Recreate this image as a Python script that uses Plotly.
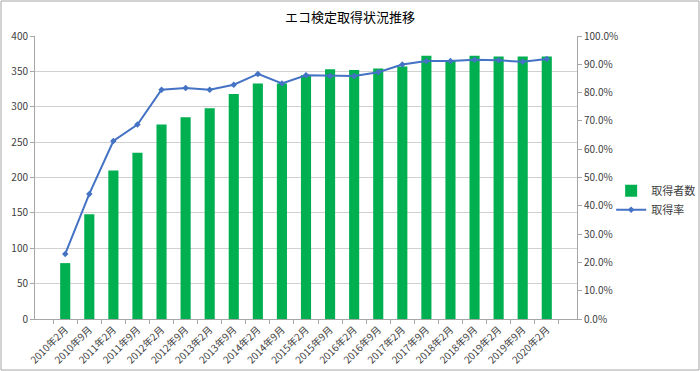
import plotly.graph_objects as go

categories = ["2010年2月", "2010年9月", "2011年2月", "2011年9月", "2012年2月", "2012年9月",
              "2013年2月", "2013年9月", "2014年2月", "2014年9月", "2015年2月", "2015年9月",
              "2016年2月", "2016年9月", "2017年2月", "2017年9月", "2018年2月", "2018年9月",
              "2019年2月", "2019年9月", "2020年2月"]
passers = [79, 148, 210, 235, 275, 285, 298, 318, 333, 333, 345, 353,
           352, 354, 357, 372, 365, 372, 371, 371, 371]
pass_rate = [0.230, 0.442, 0.629, 0.687, 0.810, 0.816, 0.810, 0.828, 0.866, 0.832, 0.861, 0.859,
             0.859, 0.872, 0.899, 0.912, 0.912, 0.916, 0.914, 0.909, 0.919]

FONT = "Noto Sans CJK JP, Noto Sans, sans-serif"

fig = go.Figure()
fig.add_trace(go.Bar(x=categories, y=passers, name="取得者数",
                     marker=dict(color="#00B050", line=dict(width=0)), width=0.42))
fig.add_trace(go.Scatter(x=categories, y=pass_rate, name="取得率", yaxis="y2",
                         mode="lines+markers",
                         line=dict(color="#4472C4", width=2),
                         marker=dict(symbol="diamond", size=5, color="#4472C4")))

L, R, T, B = 35, 123, 36, 52
pw, ph = 700 - L - R, 371 - T - B

fig.update_layout(
    width=700, height=371,
    margin=dict(l=L, r=R, t=T, b=B, autoexpand=False),
    paper_bgcolor="white", plot_bgcolor="white",
    font=dict(family=FONT, size=10, color="#404040"),
    title=dict(text="エコ検定取得状況推移", x=0.5, xanchor="center", y=1 - 17 / 371, yanchor="middle",
               font=dict(family=FONT, size=13, color="#000000")),
    showlegend=True,
    legend=dict(x=1.063, y=0.42, xanchor="left", yanchor="middle",
                font=dict(family=FONT, size=11, color="#404040"),
                bgcolor="rgba(0,0,0,0)", tracegroupgap=4),
    xaxis=dict(type="category", tickangle=-45, showgrid=False, automargin=False,
               showline=True, linecolor="#A6A6A6", ticks="outside", tickson="boundaries",
               tickcolor="#A6A6A6", ticklen=4, tickfont=dict(size=10, color="#404040")),
    yaxis=dict(range=[0, 400], dtick=50, showgrid=True, gridcolor="#D0D0D0", automargin=False,
               showline=True, linecolor="#A6A6A6", ticks="outside", tickcolor="#A6A6A6", ticklen=4,
               zeroline=False, tickfont=dict(size=10, color="#404040")),
    yaxis2=dict(range=[0, 1.0], dtick=0.1, tickformat=".1%", overlaying="y", side="right",
                showgrid=False, showline=True, linecolor="#A6A6A6", ticks="outside",
                tickcolor="#A6A6A6", ticklen=4, zeroline=False, automargin=False,
                tickfont=dict(size=10, color="#404040")),
    bargap=0.58,
)

fig.add_shape(type="rect", xref="paper", yref="paper",
              x0=-(L - 1) / pw, x1=1 + (R - 1) / pw,
              y0=-(B - 1) / ph, y1=1 + (T - 1) / ph,
              line=dict(color="#A6A6A6", width=1), fillcolor="rgba(0,0,0,0)", layer="below")

fig.write_html("out.html", config={"displayModeBar": False},
               post_script="document.body.style.margin='0px';")
